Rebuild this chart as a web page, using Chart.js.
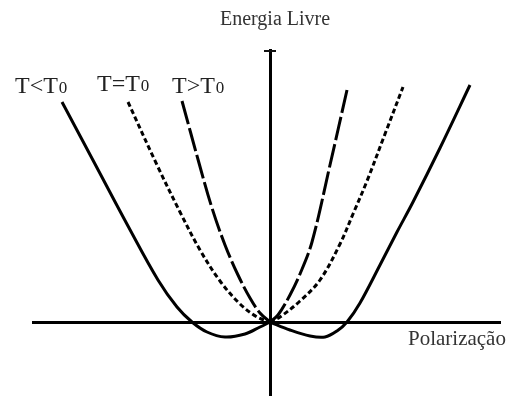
<!DOCTYPE html>
<html lang="pt">
<head>
    <meta charset="UTF-8">
    <title>Energia Livre x Polarização</title>
    <script src="https://cdn.jsdelivr.net/npm/chart.js"></script>
    <style>
        body { margin: 0; background: #fff; }
        canvas { display: block; }
    </style>
</head>
<body>
<canvas id="landau" width="507" height="396"></canvas>
<script>
    // Curves (polarization P, free energy F, arbitrary units).
    // Each curve is split in two halves that meet at the origin.
    const pBelowL = [-20.8, -17.5, -14.2, -11.2, -9.3, -7.8, -6.3, -4.5, -2.5, -1.0, 0];
    const fBelowL = [22.0, 15.8, 9.6, 4.2, 1.5, 0, -1.0, -1.5, -1.2, -0.5, 0];
    const pBelowR = [0, 2.0, 4.0, 5.5, 6.7, 7.7, 9.0, 11.0, 12.7, 14.3, 17.0, 20.0];
    const fBelowR = [0, -0.8, -1.4, -1.5, -0.9, 0, 1.9, 5.7, 9.0, 12.0, 17.4, 23.7];

    const pEqualL = [-14.2, -11.3, -9.0, -7.0, -5.0, -3.0, -1.3, 0];
    const fEqualL = [22.0, 15.7, 11.0, 7.2, 4.1, 1.8, 0.5, 0];
    const pEqualR = [0, 1.0, 3.0, 5.0, 7.0, 8.3, 9.7, 11.5, 13.3];
    const fEqualR = [0, 0.5, 2.1, 4.2, 7.8, 10.8, 14.1, 18.8, 23.5];

    const pAboveL = [-8.8, -7.1, -5.8, -4.5, -3.2, -2.0, -1.0, 0];
    const fAboveL = [22.1, 15.9, 11.4, 7.7, 4.7, 2.4, 0.9, 0];
    const pAboveR = [0, 0.8, 2.0, 3.0, 4.2, 6.0, 7.7];
    const fAboveR = [0, 0.7, 2.7, 4.8, 8.0, 15.7, 23.2];

    const curveLabels = ['T<T0', 'T=T0', 'T>T0'];

    function toPoints(ps, fs) {
        return ps.map((p, i) => ({x: p, y: fs[i]}));
    }

    function drawLabel(ctx, main, sub, x, y) {
        ctx.font = '24px "Liberation Serif"';
        ctx.fillText(main, x, y);
        let w = ctx.measureText(main).width;
        ctx.font = '17px "Liberation Serif"';
        ctx.fillText(sub, x + w + 1, y);
    }

    // axis names, curve labels and the cap on top of the F axis
    const annotations = {
        id: 'annotations',
        afterDraw(chart) {
            const ctx = chart.ctx;
            const xs = chart.scales.x, ys = chart.scales.y;
            const x0 = xs.getPixelForValue(0);
            ctx.save();
            ctx.strokeStyle = '#111';
            ctx.lineWidth = 2;
            ctx.beginPath();
            ctx.moveTo(x0 - 6, ys.top + 1);
            ctx.lineTo(x0 + 6, ys.top + 1);
            ctx.stroke();

            ctx.fillStyle = '#333';
            ctx.textBaseline = 'alphabetic';
            ctx.font = '20px "Liberation Serif"';
            ctx.textAlign = 'center';
            ctx.fillText('Energia Livre', 275, 25);
            ctx.textAlign = 'left';
            ctx.font = '21px "Liberation Serif"';
            ctx.fillText('Polarização', 408, 345);

            ctx.fillStyle = '#222';
            drawLabel(ctx, 'T<T', '0', 15, 93);
            drawLabel(ctx, 'T=T', '0', 97, 91);
            drawLabel(ctx, 'T>T', '0', 172, 93);
            ctx.restore();
        }
    };

    function curve(label, ps, fs, dash) {
        return {
            label: label,
            data: toPoints(ps, fs),
            showLine: true,
            pointRadius: 0,
            borderColor: '#000',
            borderWidth: 3,
            borderDash: dash,
            fill: false,
            tension: 0.35
        };
    }

    new Chart(document.getElementById('landau'), {
        type: 'scatter',
        data: {
            datasets: [
                curve(curveLabels[0], pBelowL, fBelowL, []),
                curve(curveLabels[0], pBelowR, fBelowR, []),
                curve(curveLabels[1], pEqualL, fEqualL, [5, 3]),
                curve(curveLabels[1], pEqualR, fEqualR, [5, 3]),
                curve(curveLabels[2], pAboveL, fAboveL, [24, 4]),
                curve(curveLabels[2], pAboveR, fAboveR, [24, 4])
            ]
        },
        options: {
            responsive: false,
            animation: false,
            layout: { padding: {left: 33, right: 7, top: 50, bottom: 1} },
            plugins: { legend: { display: false }, tooltip: { enabled: false } },
            scales: {
                x: {
                    type: 'linear',
                    position: {y: 0},
                    min: -23.7, max: 23.0,
                    ticks: { display: false },
                    grid: { drawOnChartArea: false, drawTicks: false },
                    border: { color: '#000', width: 3 }
                },
                y: {
                    type: 'linear',
                    position: {x: 0},
                    min: -7.3, max: 27.2,
                    ticks: { display: false },
                    grid: { drawOnChartArea: false, drawTicks: false },
                    border: { color: '#000', width: 3 }
                }
            }
        },
        plugins: [annotations]
    });
</script>
</body>
</html>
